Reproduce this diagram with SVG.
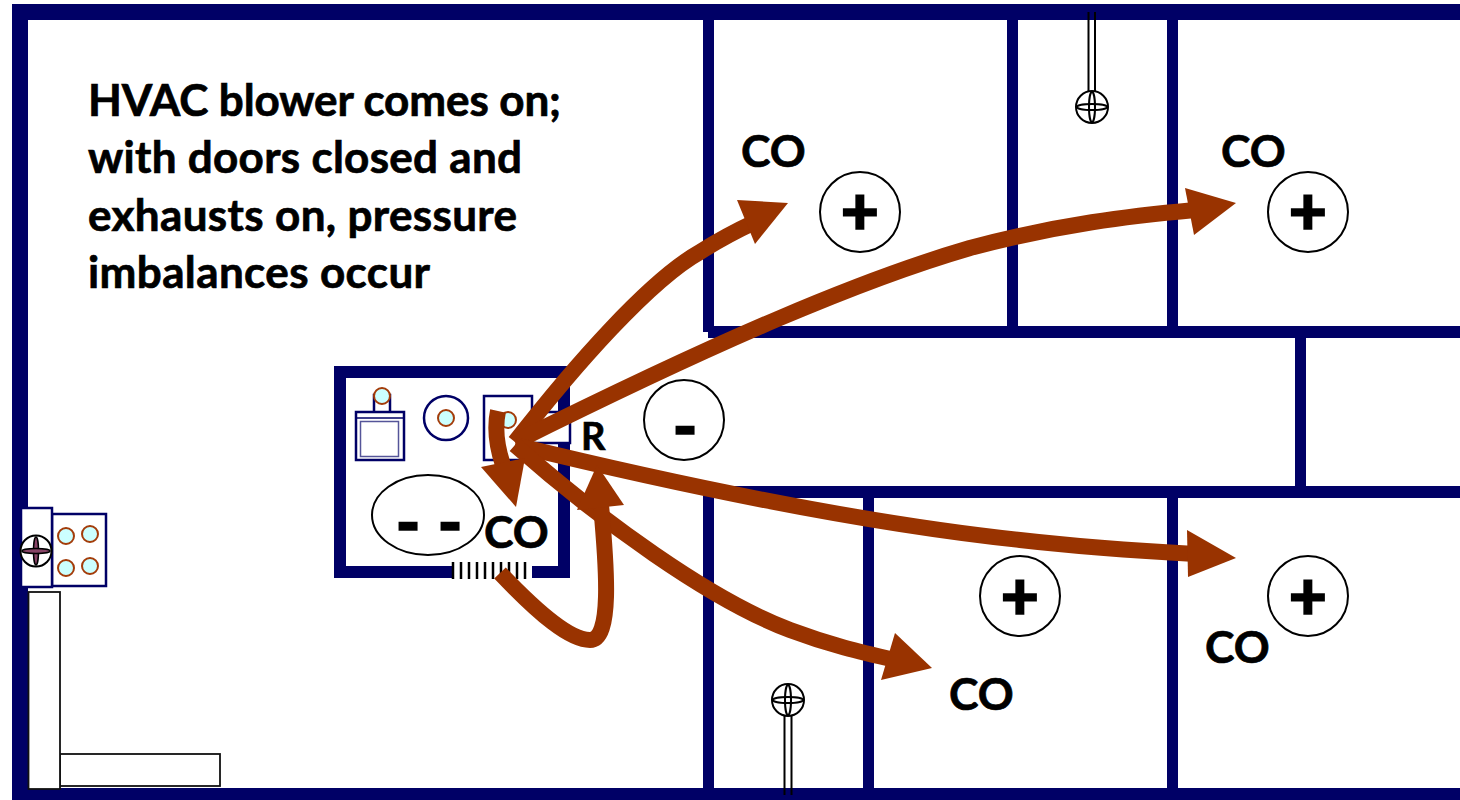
<svg xmlns="http://www.w3.org/2000/svg" width="1460" height="800" viewBox="0 0 1460 800">
<style>
.t{font-family:"Lato","Open Sans","Liberation Sans",sans-serif;font-weight:700;fill:#000;stroke:#000;stroke-width:0.7px}
.b{font-size:44px}
.co{font-size:44.500px}
.sym{font-size:66px;font-weight:900;text-anchor:middle;stroke-width:1.600px}
.wall{fill:#000066}
.app{fill:#fff;stroke:#000066;stroke-width:2.5}
.pilot{fill:#ccffff;stroke:#a33c0a;stroke-width:2}
.zone{fill:#fff;stroke:#000;stroke-width:2}
.fan{fill:#fff;stroke:#000;stroke-width:2}
.blade{fill:none;stroke:#000;stroke-width:2}
.flow{fill:none;stroke:#993300;stroke-width:16}
.head{fill:#993300}
</style>
<rect width="1460" height="800" fill="#fff"/>
<g id="walls">
<rect class="wall" x="12" y="4" width="1448" height="16"/>
<rect class="wall" x="12" y="4" width="16" height="796"/>
<rect class="wall" x="12" y="788" width="1448" height="12"/>
<rect class="wall" x="703" y="20" width="11" height="312"/>
<rect class="wall" x="708" y="326" width="752" height="12"/>
<rect class="wall" x="1007" y="20" width="11" height="306"/>
<rect class="wall" x="1167" y="20" width="11" height="306"/>
<rect class="wall" x="1295" y="338" width="11" height="148"/>
<rect class="wall" x="703" y="486" width="757" height="12"/>
<rect class="wall" x="703" y="498" width="11" height="290"/>
<rect class="wall" x="863" y="498" width="11" height="290"/>
<rect class="wall" x="1167" y="498" width="11" height="290"/>
</g>
<g id="furnace-room">
<rect class="wall" x="334" y="366" width="236" height="12"/>
<rect class="wall" x="334" y="366" width="12" height="212"/>
<rect class="wall" x="558" y="366" width="12" height="212"/>
<rect class="wall" x="334" y="566" width="118" height="12"/>
<rect class="wall" x="532" y="566" width="38" height="12"/>
<path d="M453,562V579M461,562V579M469,562V579M477,562V579M485,562V579M493,562V579M501,562V579M509,562V579M517,562V579M525,562V579" stroke="#000" stroke-width="2.5" fill="none"/>
</g>
<g id="water-heater">
<rect class="app" x="374" y="395" width="16" height="18"/>
<circle class="pilot" cx="382" cy="396" r="8"/>
<rect class="app" x="356" y="412" width="48" height="48"/>
<path d="M357,418H403" stroke="#000066" stroke-width="1.5"/>
<rect x="360.500" y="421.500" width="38" height="35" fill="#fff" stroke="#555599" stroke-width="1.500"/>
</g>
<g id="water-tank">
<circle class="app" cx="446" cy="418" r="22"/>
<circle class="pilot" cx="446" cy="418" r="8"/>
</g>
<g id="furnace">
<rect class="app" x="532" y="412" width="38" height="31"/>
<rect class="app" x="484" y="396" width="48" height="64"/>
<circle class="pilot" cx="508" cy="420" r="8"/>
</g>
<g id="zone-furnace">
<ellipse class="zone" cx="428" cy="515" rx="56" ry="40"/>
<text class="t sym" x="408" y="546">-</text>
<text class="t sym" x="450" y="546">-</text>
</g>
<g id="zone-return">
<circle class="zone" cx="684" cy="420" r="40"/>
<text class="t sym" x="685" y="450">-</text>
</g>
<g id="zone-ne"><circle class="zone" cx="860" cy="212" r="40"/><text class="t sym" x="860" y="235">+</text></g>
<g id="zone-e"><circle class="zone" cx="1308" cy="212" r="40"/><text class="t sym" x="1308" y="235">+</text></g>
<g id="zone-s"><circle class="zone" cx="1020" cy="596" r="40"/><text class="t sym" x="1020" y="620">+</text></g>
<g id="zone-se"><circle class="zone" cx="1308" cy="596" r="40"/><text class="t sym" x="1308" y="620">+</text></g>
<g id="kitchen">
<rect class="app" x="52" y="514" width="54" height="72"/>
<circle class="pilot" cx="66" cy="536" r="8"/>
<circle class="pilot" cx="90" cy="534" r="8"/>
<circle class="pilot" cx="66" cy="568" r="8"/>
<circle class="pilot" cx="90" cy="566" r="8"/>
<rect class="app" x="21" y="508" width="31" height="79"/>
<circle class="fan" cx="36" cy="551" r="15.500"/>
<ellipse cx="36" cy="551" rx="2.500" ry="14" fill="#884466" stroke="#000" stroke-width="1.500"/>
<ellipse cx="36" cy="551" rx="14" ry="2.500" fill="#884466" stroke="#000" stroke-width="1.500"/>
</g>
<g id="counter">
<rect x="60" y="754" width="160" height="32" fill="#fff" stroke="#111" stroke-width="1.800"/>
<rect x="28.500" y="592" width="31.500" height="197" fill="#fff" stroke="#111" stroke-width="1.800"/>
</g>
<g id="exhaust-top">
<path d="M1088.500,12V95M1095,12V95" class="blade"/>
<circle class="fan" cx="1092" cy="107" r="16"/>
<ellipse class="blade" cx="1092" cy="107" rx="3" ry="15"/>
<ellipse class="blade" cx="1092" cy="107" rx="15" ry="3"/>
</g>
<g id="exhaust-bottom">
<path d="M784.500,715V795M791.500,715V795" class="blade"/>
<circle class="fan" cx="788" cy="700" r="16"/>
<ellipse class="blade" cx="788" cy="700" rx="3" ry="15"/>
<ellipse class="blade" cx="788" cy="700" rx="15" ry="3"/>
</g>
<g id="labels">
<text class="t b" x="88" y="116" textLength="473">HVAC blower comes on;</text>
<text class="t b" x="88" y="173" textLength="434">with doors closed and</text>
<text class="t b" x="88" y="231" textLength="429">exhausts on, pressure</text>
<text class="t b" x="88" y="288" textLength="342">imbalances occur</text>
<text class="t co" x="741" y="167">CO</text>
<text class="t co" x="1221" y="167">CO</text>
<text class="t co" x="484" y="548">CO</text>
<text class="t co" x="949" y="710">CO</text>
<text class="t co" x="1205" y="663">CO</text>
<text class="t" font-size="38" x="581" y="450" textLength="26">R</text>
</g>
<g id="connectors">
<path class="flow" d="M515,442C575,365 650,280 700,252Q725,236 755,222"/>
<polygon class="head" points="737,200 788,203 755,244"/>
<path class="flow" d="M515,442C720,340 860,280 970,248C1060,224 1130,216 1195,210"/>
<polygon class="head" points="1185,188 1236,203 1194,235"/>
<path class="flow" d="M515,445C700,490 880,525 1020,540C1090,548 1140,551 1195,554"/>
<polygon class="head" points="1187,530 1236,558 1188,577"/>
<path class="flow" d="M515,445C600,520 710,600 790,630C830,645 860,652 895,660"/>
<polygon class="head" points="895,633 932,668 881,680"/>
<path class="flow" d="M500,573C540,615 570,640 590,640C612,640 607,570 601,505"/>
<polygon class="head" points="597,465 624,505 577,510"/>
<path class="flow" d="M498,411C494,430 498,450 503,465"/>
<polygon class="head" points="481,467 525,458 516,507"/>
</g>
</svg>
